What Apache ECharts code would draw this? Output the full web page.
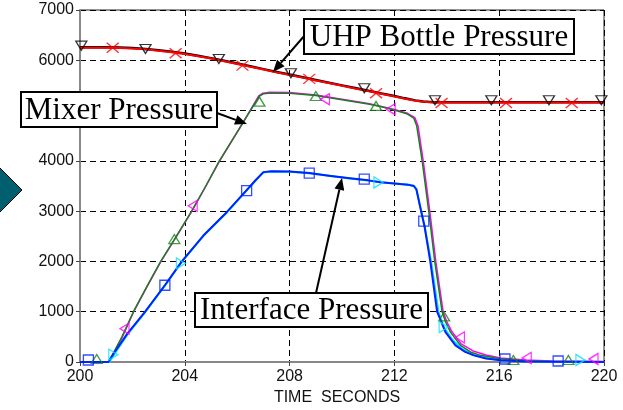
<!DOCTYPE html>
<html><head><meta charset="utf-8">
<script src="https://cdn.jsdelivr.net/npm/echarts@6/dist/echarts.min.js"></script>
<style>html,body{margin:0;padding:0;background:#fff}#c{width:623px;height:410px}</style>
</head><body><div id="c"></div>
<script>
// ---- data (time in seconds, pressure) ----
const xTicks = [200, 204, 208, 212, 216, 220];
const yTicks = [0, 1000, 2000, 3000, 4000, 5000, 6000, 7000];
const xAxisTitle = 'TIME  SECONDS';

const uhpRedLine = [[200,6250],[201,6250],[201.5,6245],[202,6235],[202.5,6218],[203,6192],[203.5,6162],[204,6125],[204.5,6082],[205,6035],[205.5,5982],[206,5928],[206.5,5872],[207,5816],[207.5,5760],[208,5708],[208.5,5655],[209,5600],[209.5,5547],[210,5493],[210.5,5440],[211,5387],[211.5,5333],[212,5280],[212.4,5235],[212.8,5195],[213.1,5175],[213.5,5163],[214,5160],[220,5160]];
const uhpBlackLine = [[200,6258],[201,6258],[201.5,6253],[202,6243],[202.5,6226],[203,6200],[203.5,6170],[204,6133],[204.5,6090],[205,6043],[205.5,5990],[206,5936],[206.5,5880],[207,5824],[207.5,5768],[208,5716],[208.5,5663],[209,5608],[209.5,5555],[210,5501],[210.5,5448],[211,5395],[211.5,5341],[212,5288],[212.4,5243],[212.8,5203],[213.1,5180],[213.5,5166],[214,5163],[220,5163]];
const uhpRedMarks   = [[201.25,6250],[203.65,6140],[206.2,5893],[208.75,5630],[211.3,5344],[213.8,5150],[216.26,5150],[218.77,5150]];
const uhpBlackMarks = [[200.05,6290],[202.5,6225],[205.3,6026],[208.05,5742],[210.85,5444],[213.55,5205],[215.7,5205],[217.9,5205],[219.9,5205]];

const mixerGreenLine = [[200,0],[201.08,0],[201.3,200],[201.6,500],[202.04,1000],[202.55,1500],[203.08,2000],[203.65,2480],[204.26,3000],[204.8,3500],[205.32,4000],[206.1,4660],[206.85,5290],[207.0,5333],[207.2,5345],[208,5345],[209,5298],[210,5215],[211,5130],[211.47,5080],[212,5010],[212.5,4930],[212.74,4848],[212.85,4700],[213.06,4000],[213.31,3000],[213.54,2000],[213.82,1000],[213.95,800],[214.14,594],[214.52,330],[214.9,200],[215.28,132],[216.05,66],[217,25],[218,8],[220,0]];
const mixerMagentaLine = [[200,0],[201.1,0],[201.3,190],[201.6,480],[202.04,990],[202.55,1490],[203.08,1990],[203.65,2470],[204.26,2990],[204.8,3490],[205.32,3990],[206.1,4650],[206.82,5290],[206.98,5345],[207.2,5362],[208,5358],[209,5310],[210,5225],[211,5140],[212,5020],[212.5,4945],[212.78,4860],[212.9,4700],[213.1,4000],[213.35,3000],[213.58,2000],[213.86,1000],[214.0,800],[214.2,600],[214.55,360],[215,220],[215.5,140],[216.05,80],[217,40],[218,20],[220,10]];
const mixerGreenMarks   = [[200.64,60],[203.6,2444],[206.85,5178],[209.0,5290],[211.3,5093],[213.9,906],[216.54,40],[218.64,40]];
const mixerMagentaMarks = [[201.7,662],[204.3,3105],[209.35,5225],[211.86,5027],[214.5,490],[217.05,80],[219.6,60]];

const ifaceBlueLine = [[200,0],[201.08,0],[201.3,180],[201.8,560],[202.48,995],[203.24,1526],[203.88,1997],[204.71,2515],[205.6,2979],[206.36,3417],[206.7,3615],[207.0,3776],[207.3,3795],[208,3790],[208.75,3760],[209.5,3705],[210.3,3652],[211.0,3612],[211.47,3575],[212,3548],[212.5,3527],[212.74,3500],[212.84,3430],[213.02,3000],[213.15,2700],[213.37,2000],[213.63,1000],[213.95,594],[214.33,330],[214.7,200],[215.03,132],[215.5,70],[216.05,33],[217,10],[220,0]];
const ifaceCyanLine = [[200,0],[201.12,0],[201.3,150],[201.8,540],[202.48,985],[203.24,1520],[203.88,1990],[204.71,2508],[205.6,2972],[206.36,3410],[206.7,3610],[207.0,3770],[207.3,3790],[208,3785],[208.75,3755],[209.5,3702],[210.3,3650],[211.0,3610],[211.47,3575],[212,3550],[212.5,3530],[212.74,3505],[212.84,3440],[213.02,3000],[213.15,2700],[213.4,2000],[213.68,1000],[213.88,693],[214.2,450],[214.6,250],[215.1,130],[215.6,70],[216.2,30],[217,10],[220,0]];
const ifaceBlueMarks = [[200.32,40],[203.24,1526],[206.36,3410],[208.75,3755],[210.85,3635],[213.12,2800],[216.22,60],[218.25,20]];
const ifaceCyanMarks = [[201.27,145],[203.85,1960],[211.39,3570],[213.88,693],[219.1,40]];

const labels = ['UHP Bottle Pressure', 'Mixer Pressure', 'Interface Pressure'];

// ---- chart ----
const chart = echarts.init(document.getElementById('c'));
function lineSeries(data, color, width, z) {
  return {type:'line', data, showSymbol:false, smooth:false,
    lineStyle:{color, width, join:'round'}, z, silent:true, animation:false};
}
function markSeries(data, symbol, color, size, rotate, z) {
  return {type:'scatter', data, symbol, symbolSize:size, symbolRotate:rotate||0,
    itemStyle:{color:'rgba(0,0,0,0)', borderColor:color, borderWidth:1.3}, z, silent:true, animation:false};
}
const X = 'path://M0,0L10,10M10,0L0,10';

function arrow(x1, y1, x2, y2) {
  const a = Math.atan2(y2 - y1, x2 - x1), L = 12, W = 5;
  const bx = x2 - L * Math.cos(a), by = y2 - L * Math.sin(a);
  const px = -Math.sin(a) * W, py = Math.cos(a) * W;
  return [
    {type:'line', shape:{x1, y1, x2:bx, y2:by}, style:{stroke:'#000', lineWidth:2}, z:100},
    {type:'polygon', shape:{points:[[x2,y2],[bx+px,by+py],[bx-px,by-py]]}, style:{fill:'#000'}, z:100}
  ];
}
function box(x, y, w, h, text) {
  return [
    {type:'rect', shape:{x, y, width:w, height:h}, style:{fill:'#fff', stroke:'#000', lineWidth:2}, z:101},
    {type:'text', x:x + w / 2, y:y + h / 2 + 1, style:{text, fill:'#000', font:'31px "Liberation Serif", "Times New Roman", serif', align:'center', verticalAlign:'middle'}, z:102}
  ];
}

const option = {
  animation:false,
  grid:{left:80, right:19, top:10, bottom:48, show:true, borderColor:'#222', borderWidth:1},
  xAxis:{type:'value', min:200, max:220, interval:4,
    axisLine:{show:true, lineStyle:{color:'#888', width:2}},
    axisTick:{show:true, length:4, lineStyle:{color:'#444'}},
    axisLabel:{fontFamily:'"Liberation Sans", Arial, sans-serif', fontSize:16, color:'#111', margin:7,
      formatter:v => xTicks.includes(v) ? String(v) : ''},
    splitLine:{show:true, lineStyle:{color:'#000', type:[6,4], width:1}}},
  yAxis:{type:'value', min:0, max:7000, interval:1000,
    axisLine:{show:true, lineStyle:{color:'#888', width:2}},
    axisTick:{show:true, length:4, lineStyle:{color:'#444'}},
    axisLabel:{fontFamily:'"Liberation Sans", Arial, sans-serif', fontSize:16, color:'#111', margin:6,
      formatter:v => yTicks.includes(v) ? String(v) : ''},
    splitLine:{show:true, lineStyle:{color:'#000', type:[6,4], width:1}}},
  series:[
    lineSeries(uhpBlackLine, '#000', 2.5, 10),
    lineSeries(uhpRedLine, '#ff0000', 2, 11),
    lineSeries(mixerMagentaLine, '#ff00ff', 1.5, 10),
    lineSeries(mixerGreenLine, '#1a801a', 1.5, 11),
    lineSeries(ifaceCyanLine, '#00e0ff', 2, 10),
    lineSeries(ifaceBlueLine, '#0022ff', 2, 11),
    markSeries(uhpBlackMarks, 'triangle', '#000', [11,9], 180, 20),
    markSeries(uhpRedMarks, X, '#ff0000', [12,10], 0, 20),
    markSeries(mixerGreenMarks, 'triangle', '#1a801a', [11,9], 0, 20),
    markSeries(mixerMagentaMarks, 'triangle', '#ff00ff', [11,9], 90, 20),
    markSeries(ifaceBlueMarks, 'rect', '#0022ff', [10,10], 0, 20),
    markSeries(ifaceCyanMarks, 'triangle', '#00e0ff', [11,9], -90, 20)
  ],
  graphic:[
    {type:'polygon', shape:{points:[[-2,166],[22,190],[-2,214]]}, style:{fill:'#005f6e', stroke:'#000', lineWidth:1}, z:100},
    {type:'text', x:337, y:398, style:{text:xAxisTitle, fill:'#111', font:'16px "Liberation Sans", Arial, sans-serif', align:'center', verticalAlign:'middle'}, z:100},
    ...arrow(305, 35, 273, 72),
    ...arrow(217, 113, 247, 124),
    ...arrow(316, 293, 342, 178),
    ...box(304, 19, 270, 35, labels[0]),
    ...box(21, 92, 196, 35, labels[1]),
    ...box(195, 293, 233, 34, labels[2])
  ]
};
chart.setOption(option);
</script></body></html>
